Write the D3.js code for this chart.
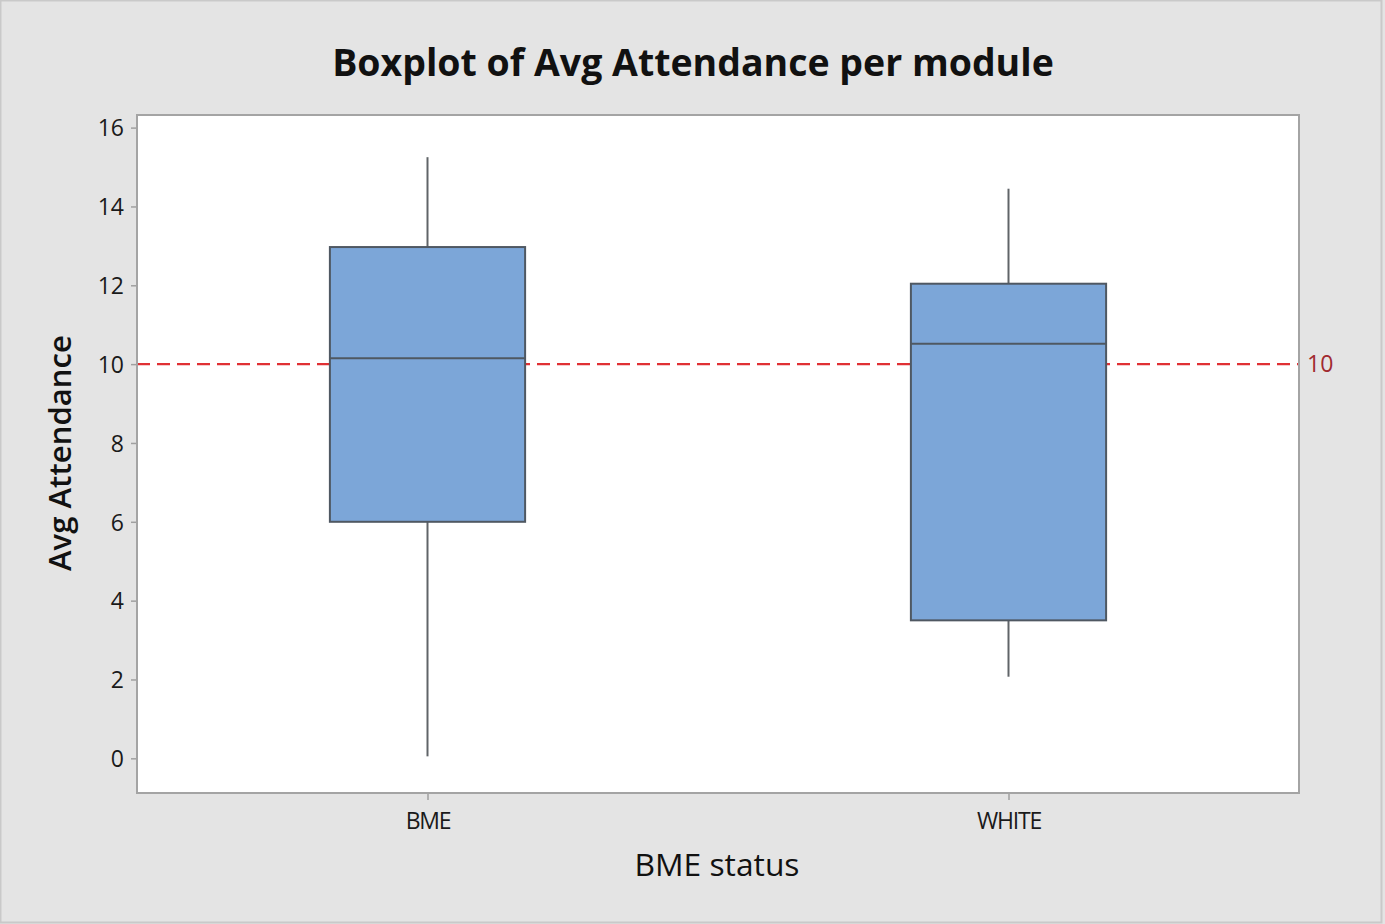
<!DOCTYPE html>
<html>
<head>
<meta charset="utf-8">
<script src="https://cdn.jsdelivr.net/npm/d3@7"></script>
<style>
  html, body { margin: 0; padding: 0; background: #e4e4e4; }
  svg { display: block; }
  text { font-family: "Open Sans", "Noto Sans", sans-serif; }
</style>
</head>
<body>
<svg id="chart" width="1385" height="924"></svg>
<script>
// ---- data ----
const categories = ["BME", "WHITE"];
const whiskerLow  = [0.05, 2.07];
const q1          = [6.0, 3.5];
const median      = [10.15, 10.52];
const q3          = [12.97, 12.04];
const whiskerHigh = [15.25, 14.45];
const yTicks = [0, 2, 4, 6, 8, 10, 12, 14, 16];
const refValue = 10;
const title = "Boxplot of Avg Attendance per module";
const xTitle = "BME status";
const yTitle = "Avg Attendance";

// ---- layout ----
const W = 1385, H = 924;
const plot = { left: 137, right: 1299, top: 115, bottom: 793 };

const svg = d3.select("#chart");
svg.append("rect").attr("x", 0.5).attr("y", 0.5).attr("width", W - 4).attr("height", H - 2)
  .attr("fill", "#e4e4e4").attr("stroke", "#c9c9c9").attr("stroke-width", 2);

const x = d3.scalePoint().domain(categories).range([plot.left, plot.right]).padding(0.5);
const y = d3.scaleLinear().domain([-0.88, 16.32]).range([plot.bottom, plot.top]);
const boxW = x.step() * 0.336;

// plot background
svg.append("rect").attr("x", plot.left).attr("y", plot.top)
  .attr("width", plot.right - plot.left).attr("height", plot.bottom - plot.top)
  .attr("fill", "#ffffff");

// y axis
const yAxis = d3.axisLeft(y).tickValues(yTicks).tickSize(6).tickPadding(7);
const gy = svg.append("g").attr("transform", `translate(${plot.left},0)`).call(yAxis);
gy.select(".domain").remove();
gy.selectAll(".tick line").attr("stroke", "#a0a0a0").attr("stroke-width", 1.5);
gy.selectAll(".tick text").attr("font-size", 23).attr("font-weight", 500).attr("fill", "#1a1a1a").attr("dy", "0.36em");

// x axis
const xAxis = d3.axisBottom(x).tickSize(7).tickPadding(13);
const gx = svg.append("g").attr("transform", `translate(0,${plot.bottom})`).call(xAxis);
gx.select(".domain").remove();
gx.selectAll(".tick line").attr("stroke", "#a0a0a0").attr("stroke-width", 1.5);
gx.selectAll(".tick text").attr("font-size", 23).attr("font-weight", 500).attr("fill", "#1a1a1a").attr("letter-spacing", -1.2);

// reference line
svg.append("line")
  .attr("x1", plot.left).attr("x2", plot.right)
  .attr("y1", y(refValue)).attr("y2", y(refValue))
  .attr("stroke", "#e03034").attr("stroke-width", 2.2)
  .attr("stroke-dasharray", "13,7");
svg.append("text").attr("x", plot.right + 8).attr("y", y(refValue)).attr("dy", "0.36em")
  .attr("font-size", 23).attr("font-weight", 500).attr("fill", "#a12a30").text(refValue);

// boxes
const boxes = categories.map((c, i) => ({ c, lo: whiskerLow[i], q1: q1[i], med: median[i], q3: q3[i], hi: whiskerHigh[i] }));
const g = svg.append("g").selectAll("g").data(boxes).join("g");
g.append("line").attr("x1", d => x(d.c)).attr("x2", d => x(d.c))
  .attr("y1", d => y(d.hi)).attr("y2", d => y(d.q3))
  .attr("stroke", "#606468").attr("stroke-width", 2);
g.append("line").attr("x1", d => x(d.c)).attr("x2", d => x(d.c))
  .attr("y1", d => y(d.q1)).attr("y2", d => y(d.lo))
  .attr("stroke", "#606468").attr("stroke-width", 2);
g.append("rect").attr("x", d => x(d.c) - boxW / 2).attr("width", boxW)
  .attr("y", d => y(d.q3)).attr("height", d => y(d.q1) - y(d.q3))
  .attr("fill", "#7ca6d8").attr("stroke", "#4f5862").attr("stroke-width", 2);
g.append("line").attr("x1", d => x(d.c) - boxW / 2).attr("x2", d => x(d.c) + boxW / 2)
  .attr("y1", d => y(d.med)).attr("y2", d => y(d.med))
  .attr("stroke", "#4f5862").attr("stroke-width", 2);

// plot frame
svg.append("rect").attr("x", plot.left).attr("y", plot.top)
  .attr("width", plot.right - plot.left).attr("height", plot.bottom - plot.top)
  .attr("fill", "none").attr("stroke", "#a4a4a4").attr("stroke-width", 2);

// helper to fit text width
function fit(sel, target) {
  const w = sel.node().getComputedTextLength();
  const fs = parseFloat(sel.attr("font-size"));
  sel.attr("font-size", fs * target / w);
}

const t = svg.append("text").attr("x", 693).attr("y", 76).attr("text-anchor", "middle")
  .attr("font-size", 36).attr("font-weight", 700).attr("fill", "#111").text(title);
fit(t, 722);

const xt = svg.append("text").attr("x", 717).attr("y", 876).attr("text-anchor", "middle")
  .attr("font-size", 30).attr("font-weight", 500).attr("fill", "#111").text(xTitle);
fit(xt, 165);

const yt = svg.append("text").attr("transform", `translate(71,453) rotate(-90)`)
  .attr("text-anchor", "middle").attr("font-size", 30).attr("font-weight", 600)
  .attr("fill", "#111").text(yTitle);
fit(yt, 236);
</script>
</body>
</html>
